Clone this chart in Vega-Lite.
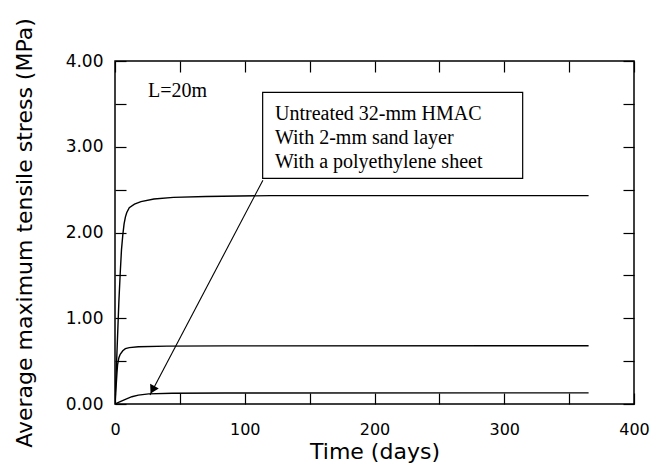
{
  "$schema": "https://vega.github.io/schema/vega-lite/v6.json",
  "width": 519,
  "height": 343,
  "autosize": {"type": "none"},
  "padding": {"left": 115, "top": 61, "right": 22, "bottom": 59},
  "background": "white",
  "config": {
    "view": {"stroke": "black", "strokeWidth": 1.5},
    "axis": {
      "grid": false,
      "domain": false,
      "tickColor": "black",
      "tickWidth": 1.2,
      "tickSize": -11,
      "labelColor": "black",
      "labelFont": "DejaVu Sans",
      "labelFontSize": 16,
      "labelFlush": false,
      "labelOverlap": false,
      "labelBound": false,
      "titleColor": "black",
      "titleFont": "DejaVu Sans",
      "titleFontSize": 22,
      "titleFontWeight": "normal"
    }
  },
  "datasets": {
    "curves": [
      {"series": "Untreated", "t": 0, "s": 0},
      {"series": "Untreated", "t": 1, "s": 0.4},
      {"series": "Untreated", "t": 2, "s": 0.8},
      {"series": "Untreated", "t": 3, "s": 1.2},
      {"series": "Untreated", "t": 4, "s": 1.52},
      {"series": "Untreated", "t": 5, "s": 1.8},
      {"series": "Untreated", "t": 6, "s": 1.97},
      {"series": "Untreated", "t": 7, "s": 2.1},
      {"series": "Untreated", "t": 8, "s": 2.18},
      {"series": "Untreated", "t": 9, "s": 2.23},
      {"series": "Untreated", "t": 11, "s": 2.29},
      {"series": "Untreated", "t": 15, "s": 2.33},
      {"series": "Untreated", "t": 20, "s": 2.36},
      {"series": "Untreated", "t": 30, "s": 2.39},
      {"series": "Untreated", "t": 45, "s": 2.41},
      {"series": "Untreated", "t": 70, "s": 2.42},
      {"series": "Untreated", "t": 120, "s": 2.43},
      {"series": "Untreated", "t": 365, "s": 2.43},
      {"series": "Sand", "t": 0, "s": 0},
      {"series": "Sand", "t": 0.5, "s": 0.12},
      {"series": "Sand", "t": 1, "s": 0.24},
      {"series": "Sand", "t": 1.5, "s": 0.36},
      {"series": "Sand", "t": 2, "s": 0.46},
      {"series": "Sand", "t": 3, "s": 0.54},
      {"series": "Sand", "t": 4, "s": 0.58},
      {"series": "Sand", "t": 6, "s": 0.62},
      {"series": "Sand", "t": 8, "s": 0.645},
      {"series": "Sand", "t": 11, "s": 0.658},
      {"series": "Sand", "t": 18, "s": 0.668},
      {"series": "Sand", "t": 40, "s": 0.675},
      {"series": "Sand", "t": 85, "s": 0.678},
      {"series": "Sand", "t": 365, "s": 0.68},
      {"series": "Sheet", "t": 0, "s": 0},
      {"series": "Sheet", "t": 4, "s": 0.027},
      {"series": "Sheet", "t": 8, "s": 0.055},
      {"series": "Sheet", "t": 13, "s": 0.085},
      {"series": "Sheet", "t": 18, "s": 0.103},
      {"series": "Sheet", "t": 26, "s": 0.118},
      {"series": "Sheet", "t": 44, "s": 0.125},
      {"series": "Sheet", "t": 85, "s": 0.128},
      {"series": "Sheet", "t": 365, "s": 0.13}
    ]
  },
  "layer": [
    {
      "data": {"name": "curves"},
      "mark": {"type": "line", "color": "black", "strokeWidth": 1.4, "clip": true},
      "encoding": {
        "x": {
          "field": "t", "type": "quantitative",
          "scale": {"domain": [0, 400], "nice": false},
          "axis": {
            "orient": "bottom",
            "values": [0, 50, 100, 150, 200, 250, 300, 350, 400],
            "labelExpr": "datum.value % 100 == 0 ? format(datum.value, 'd') : ''",
            "labelPadding": 28,
            "title": "Time (days)",
            "titlePadding": 4
          }
        },
        "y": {
          "field": "s", "type": "quantitative",
          "scale": {"domain": [0, 4], "nice": false},
          "axis": {
            "orient": "left",
            "values": [0, 0.5, 1, 1.5, 2, 2.5, 3, 3.5, 4],
            "labelExpr": "datum.value % 1 == 0 ? format(datum.value, '.2f') : ''",
            "labelPadding": 23,
            "labelFontSize": 17,
            "title": "Average maximum tensile stress (MPa)",
            "titlePadding": 29
          }
        },
        "detail": {"field": "series"}
      }
    },
    {
      "data": {"name": "curves"},
      "mark": {"type": "point", "opacity": 0},
      "encoding": {
        "x": {
          "field": "t", "type": "quantitative",
          "axis": {"orient": "top", "values": [0, 50, 100, 150, 200, 250, 300, 350, 400], "labels": false, "title": null}
        },
        "y": {
          "field": "s", "type": "quantitative",
          "axis": {"orient": "right", "values": [0, 0.5, 1, 1.5, 2, 2.5, 3, 3.5, 4], "labels": false, "title": null}
        }
      }
    },
    {
      "data": {"values": [{"t1": 114, "t2": 27, "s1": 2.61, "s2": 0.105}]},
      "mark": {"type": "rule", "color": "black", "strokeWidth": 1.1},
      "encoding": {
        "x": {"field": "t1", "type": "quantitative", "axis": null},
        "x2": {"field": "t2"},
        "y": {"field": "s1", "type": "quantitative", "axis": null},
        "y2": {"field": "s2"}
      }
    },
    {
      "data": {"values": [{"t": 28.9, "s": 0.165}]},
      "mark": {"type": "point", "shape": "triangle-up", "filled": true, "color": "black", "size": 95, "opacity": 1, "angle": 207.7},
      "encoding": {
        "x": {"field": "t", "type": "quantitative", "axis": null},
        "y": {"field": "s", "type": "quantitative", "axis": null}
      }
    },
    {
      "data": {"values": [{"t1": 113.8, "t2": 314.2, "s1": 2.632, "s2": 3.635}]},
      "mark": {"type": "rect", "fill": "white", "stroke": "black", "strokeWidth": 1.2},
      "encoding": {
        "x": {"field": "t1", "type": "quantitative", "axis": null},
        "x2": {"field": "t2"},
        "y": {"field": "s1", "type": "quantitative", "axis": null},
        "y2": {"field": "s2"}
      }
    },
    {
      "data": {"values": [
        {"t": 123.3, "s": 3.312, "label": "Untreated 32-mm HMAC"},
        {"t": 123.3, "s": 3.032, "label": "With 2-mm sand layer"},
        {"t": 123.3, "s": 2.75, "label": "With a polyethylene sheet"},
        {"t": 25.4, "s": 3.584, "label": "L=20m"}
      ]},
      "mark": {"type": "text", "font": "Liberation Serif", "fontSize": 20, "align": "left", "baseline": "alphabetic", "color": "black"},
      "encoding": {
        "x": {"field": "t", "type": "quantitative", "axis": null},
        "y": {"field": "s", "type": "quantitative", "axis": null},
        "text": {"field": "label"}
      }
    }
  ]
}
